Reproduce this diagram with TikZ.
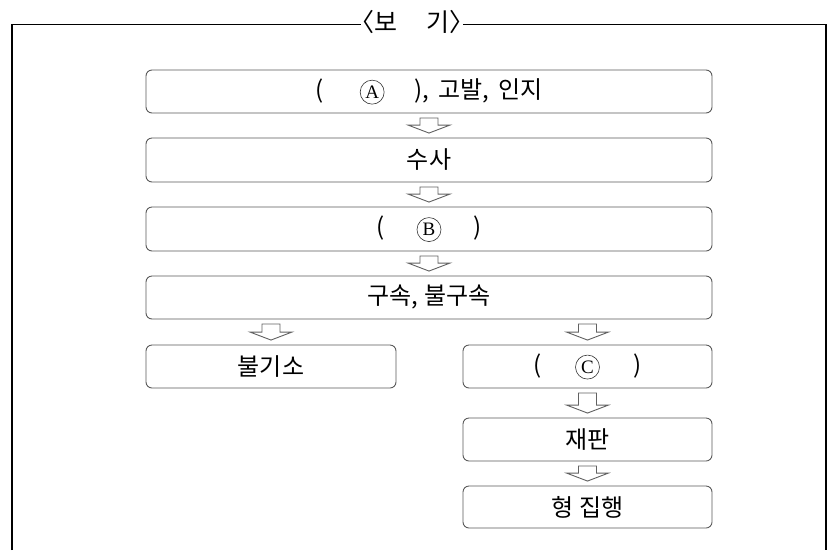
\documentclass[tikz,border=0pt]{standalone}
\usepackage{fontspec}
\setmainfont{Noto Sans CJK KR}
\newfontfamily\letterfont{Liberation Serif}
\usetikzlibrary{calc}
\tikzset{
  flowbox/.style={draw=black!65, line width=0.9pt, rounded corners=6pt, fill=white,
    inner sep=0pt, minimum height=43pt, font=\fontsize{24}{27}\selectfont},
  blockarrow/.style={draw=black!62, line width=0.9pt, fill=white, line join=miter},
  frameline/.style={draw=black, line width=1.2pt},
  titletext/.style={inner sep=0pt, font=\fontsize{25}{28}\selectfont},
  circlet/.style={draw=black!80, circle, line width=0.6pt, inner sep=0pt,
    minimum size=24pt, font=\letterfont\fontsize{19}{19}\selectfont}
}
\newcommand\circlet[1]{\tikz[baseline=(c.base)]\node[circlet](c){#1};}
\newcommand\flowarrow[3]{% from node, to node, x reference node
  \path[blockarrow] let \p1=($(#1.south -| #3)+(0,4.5)$), \p2=($(#2.north -| #3)+(0,-4.5)$) in
    (\x1-9pt,\y1) -- (\x1+9pt,\y1) -- (\x1+9pt,\y2+8pt) -- (\x1+21pt,\y2+8pt) --
    (\x1,\y2) -- (\x1-21pt,\y2+8pt) -- (\x1-9pt,\y2+8pt) -- cycle;
}
\begin{document}
\begin{tikzpicture}[x=1pt,y=-1pt]
\useasboundingbox (0,0) rectangle (835,550);
% frame and title
\node[titletext] (title) at (412,22) {〈보\hspace{1.2em}기〉};
\coordinate (fl) at (12,550);
\coordinate (fr) at (826,550);
\coordinate (tl) at ($(title.west |- 0,24.5)+(12,0)$);
\coordinate (tr) at ($(title.east |- 0,24.5)+(-12,0)$);
\draw[frameline] (fl) -- (12,24.5) -- (tl);
\draw[frameline] (tr) -- (826,24.5) -- (fr);
% boxes
\node[flowbox, minimum width=566pt] (b1) at (429,91.5) {(\hspace{36pt}\circlet{A}\hspace{30pt}),\hspace{9pt}고발,\hspace{9pt}인지};
\node[flowbox, minimum width=566pt, minimum height=44pt] (b2) at (429,160) {수사};
\node[flowbox, minimum width=566pt, minimum height=44pt] (b3) at (429,229) {(\hspace{32pt}\circlet{B}\hspace{32pt})};
\node[flowbox, minimum width=566pt] (b4) at (429,297.5) {구속,\hspace{6pt}불구속};
\node[flowbox, minimum width=250pt] (b5) at (271,366.5) {불기소};
\node[flowbox, minimum width=249pt] (bc) at (587.5,366.5) {(\hspace{34pt}\circlet{C}\hspace{34pt})};
\node[flowbox, minimum width=249pt] (b6) at (587.5,439.5) {재판};
\node[flowbox, minimum width=249pt, minimum height=42pt] (b7) at (587.5,507) {형 집행};
% arrows
\flowarrow{b1}{b2}{b2}
\flowarrow{b2}{b3}{b3}
\flowarrow{b3}{b4}{b4}
\flowarrow{b4}{b5}{b5}
\flowarrow{b4}{bc}{bc}
\flowarrow{bc}{b6}{b6}
\flowarrow{b6}{b7}{b7}
\end{tikzpicture}
\end{document}
